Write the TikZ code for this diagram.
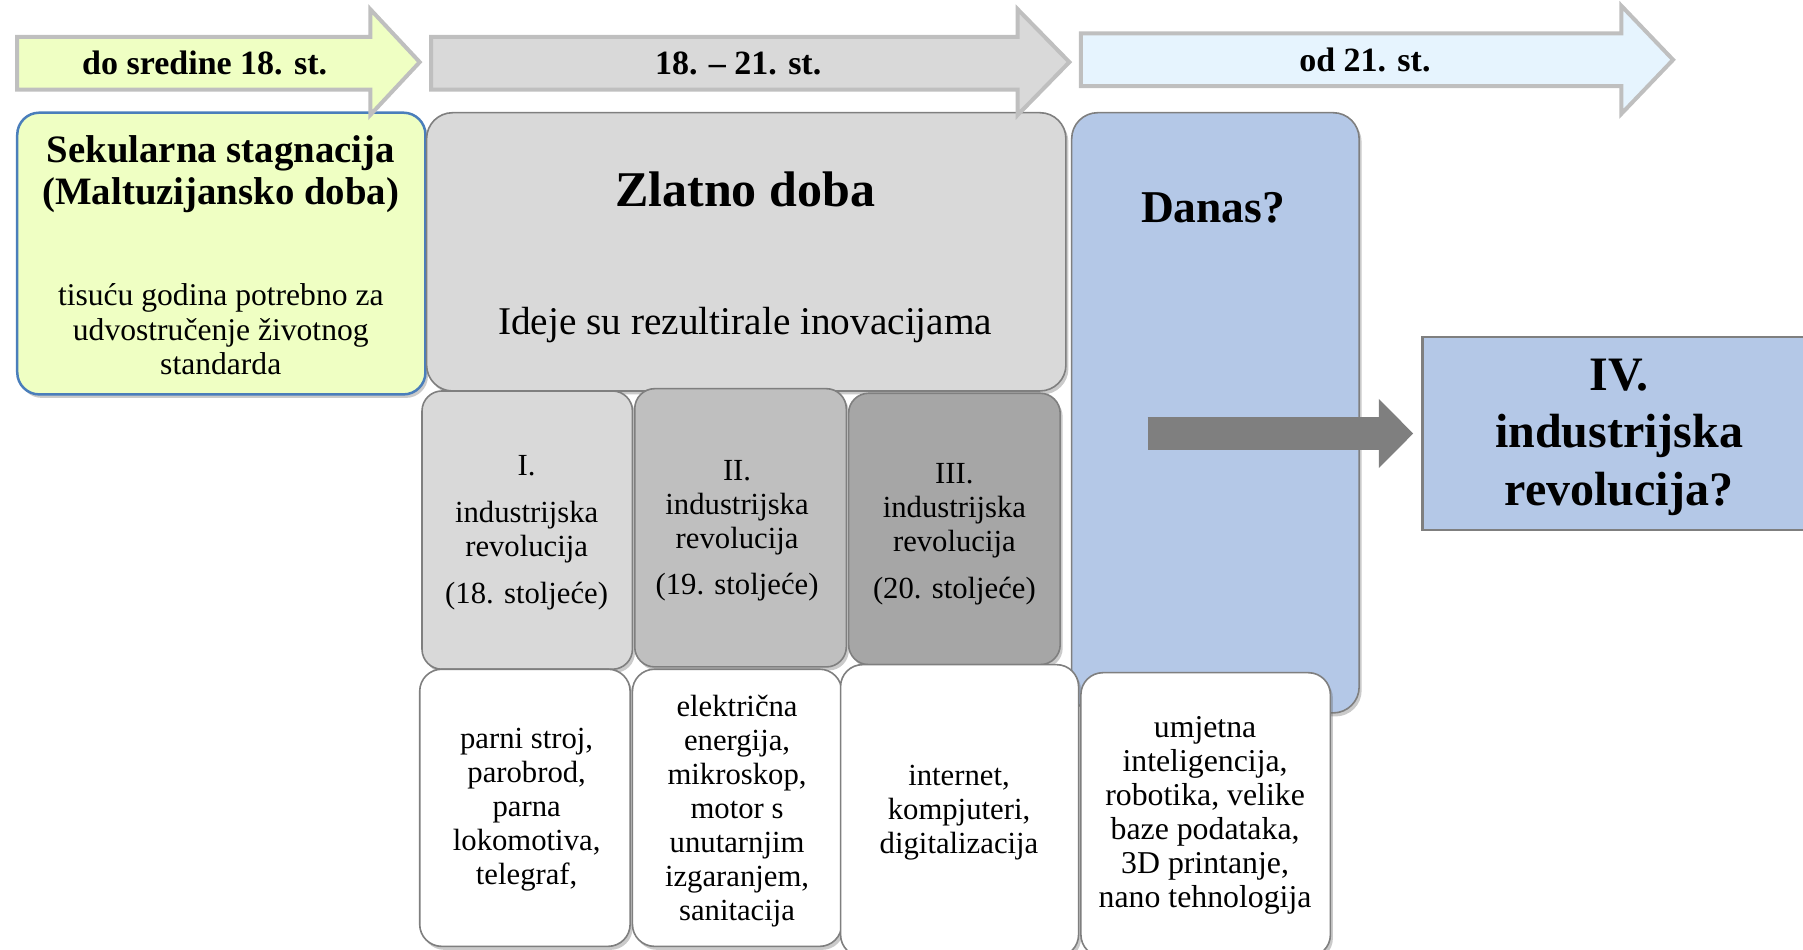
\documentclass[tikz,border=0pt]{standalone}
\usepackage{fontspec}
\setmainfont{Liberation Serif}
\usetikzlibrary{fit,shadows,arrows.meta}
\definecolor{yg}{RGB}{239,255,195}
\definecolor{lg}{RGB}{217,217,217}
\definecolor{mg}{RGB}{191,191,191}
\definecolor{dg}{RGB}{166,166,166}
\definecolor{bl}{RGB}{180,200,231}
\definecolor{lb}{RGB}{230,244,254}
\definecolor{boxgray}{RGB}{127,127,127}
\definecolor{arrowgray}{RGB}{191,191,191}
\definecolor{blueedge}{RGB}{74,126,187}
\newcommand\myfs[2]{\fontsize{#1}{#2}\selectfont}
\tikzset{
  bararrow/.style={draw=arrowgray, line width=4pt, line join=miter},
  box/.style={draw=boxgray, line width=1.6pt, rounded corners=24pt, inner sep=0pt,
    drop shadow={shadow xshift=2.5pt, shadow yshift=-3.5pt, opacity=0.35, fill=black!60}},
  lbl/.style={align=center, inner sep=0pt},
  txt/.style={lbl, yshift=-3.4pt},
  arrlbl/.style={lbl, font=\bfseries\myfs{34}{39}},
  small/.style={txt, font=\myfs{30.7}{34}},
}
\begin{document}
\begin{tikzpicture}[x=1.15pt,y=-1.15pt]
\useasboundingbox (0,0) rectangle (1568,826);

% main boxes
\node[box, fill=yg, draw=blueedge, line width=2.5pt, rounded corners=22pt, fit={(15,98) (370,343)}] (sek) {};
\node[box, fill=lg, rounded corners=26pt, fit={(371,98) (927,340)}] (zlat) {};
\node[box, fill=bl, rounded corners=26pt, fit={(932,98) (1182,620)}] (danas) {};

% revolution boxes
\node[box, fill=lg, rounded corners=20pt, fit={(367,340) (550,582)}] (r1) {};
\node[box, fill=mg, rounded corners=20pt, fit={(552,338) (736,580)}] (r2) {};
\node[box, fill=dg, rounded corners=20pt, fit={(738,342) (922,578)}] (r3) {};

% bottom white boxes
\node[box, fill=white, rounded corners=22pt, fit={(365,582) (548,823)}] (b1) {};
\node[box, fill=white, rounded corners=22pt, fit={(550,582) (732,823)}] (b2) {};
\node[box, fill=white, rounded corners=22pt, fit={(731,578) (938,832)}] (b3) {};
\node[box, fill=white, rounded corners=22pt, fit={(940,585) (1157,832)}] (b4) {};

% IV box
\node[draw=boxgray, line width=2.2pt, fill=bl, inner sep=0pt, fit={(1237,293) (1575,461)}] (iv) {};

% gray block arrow
\coordinate (gstart) at (998,377);
\draw[draw=boxgray, line width=33.4pt, line cap=butt,
  -{Triangle[length=34.5pt,width=67pt]}] (gstart) -- ([xshift=-8pt]iv.west);

% timeline arrows
\draw[bararrow, fill=yg] (15,32) -- (322,32) -- (322,8) -- (365,54) -- (322,100) -- (322,78) -- (15,78) -- cycle;
\draw[bararrow, fill=lg] (375,32) -- (885,32) -- (885,8) -- (930,54) -- (885,100) -- (885,78) -- (375,78) -- cycle;
\draw[bararrow, fill=lb] (940,29) -- (1410,29) -- (1410,5) -- (1455,52) -- (1410,99) -- (1410,75) -- (940,75) -- cycle;

\node[arrlbl] (a1) at (178,55) {do sredine 18. st.};
\node[arrlbl] (a2) at (642,55) {18. -- 21. st.};
\node[arrlbl] (a3) at (1187,52) {od 21. st.};

% texts
\node[txt, font=\bfseries\myfs{38.8}{42.5}] (sekt) at (192,148.5) {Sekularna stagnacija\\(Maltuzijansko doba)};
\node[lbl, font=\myfs{31.6}{34.5}] (sekb) at (192,286.5) {tisuću godina potrebno za\\udvostručenje životnog\\standarda};
\node[lbl, font=\bfseries\myfs{50}{56}] (zlatt) at (648,165) {Zlatno doba};
\node[txt, font=\myfs{39.3}{44}] (zlatb) at (648,280) {Ideje su rezultirale inovacijama};
\node[lbl, font=\bfseries\myfs{45.5}{52}] (danast) at (1055,181) {Danas?};

\node[small] (r1t) at (458,460) {I.\\[13pt]industrijska\\revolucija\\[13pt](18. stoljeće)};
\node[small] (r2t) at (641,458.5) {II.\\industrijska\\revolucija\\[12pt](19. stoljeće)};
\node[small] (r3t) at (830,462) {III.\\industrijska\\revolucija\\[13pt](20. stoljeće)};

\node[small] (b1t) at (458,701.5) {parni stroj,\\parobrod,\\parna\\lokomotiva,\\telegraf,};
\node[small] (b2t) at (641,702.5) {električna\\energija,\\mikroskop,\\motor s\\unutarnjim\\izgaranjem,\\sanitacija};
\node[small] (b3t) at (834,704) {internet,\\kompjuteri,\\digitalizacija};
\node[small, font=\myfs{31.8}{34}] (b4t) at (1048,706) {umjetna\\inteligencija,\\robotika, velike\\baze podataka,\\3D printanje,\\nano tehnologija};

\node[txt, font=\bfseries\myfs{48}{57.5}] (ivt) at (1408,377) {IV.\\industrijska\\revolucija?};
\end{tikzpicture}
\end{document}
